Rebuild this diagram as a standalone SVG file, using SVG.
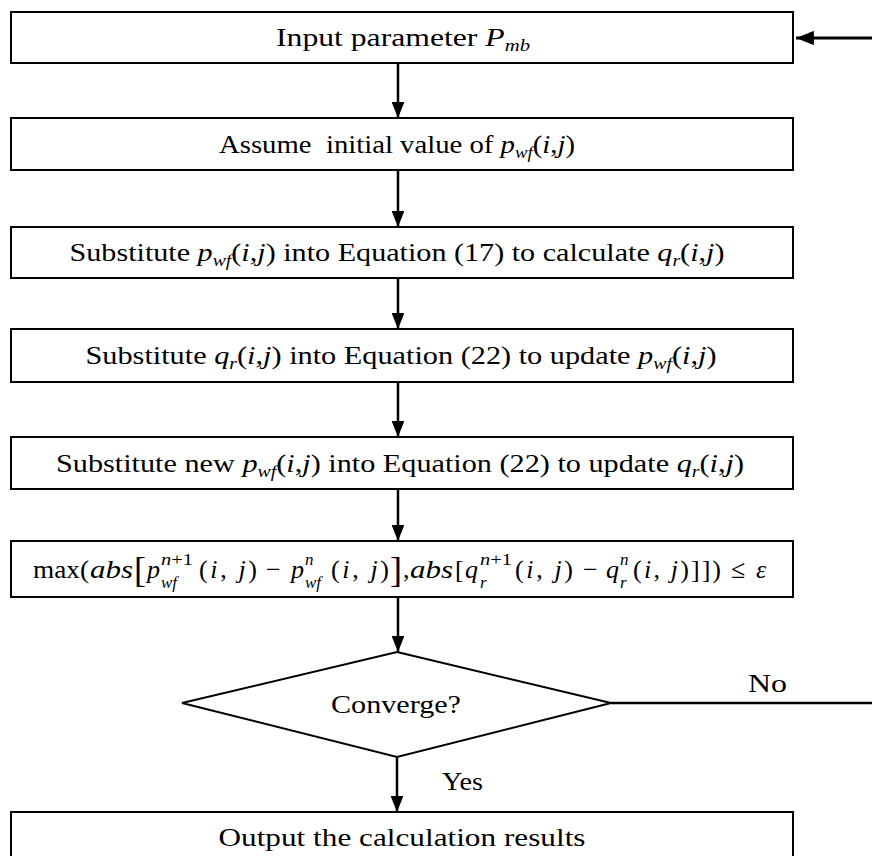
<svg xmlns="http://www.w3.org/2000/svg" width="872" height="856" viewBox="0 0 872 856">
<style>
.box{fill:#fff;stroke:#000;stroke-width:2}
.t{font-family:"Liberation Serif","Times New Roman",serif;font-size:26px;fill:#000}
.m{font-family:"Liberation Serif","Times New Roman",serif;font-size:26px;fill:#000}
.i{font-style:italic}
.edge{stroke:#000;stroke-width:2.5;fill:none}
.arr{marker-end:url(#ah)}
</style>
<defs>
<marker id="ah" viewBox="0 0 15 12" refX="15" refY="6" markerWidth="6.4" markerHeight="5.1" markerUnits="strokeWidth" orient="auto">
<path d="M0,0 L15,6 L0,12 z" fill="#000"/>
</marker>
</defs>
<rect width="872" height="856" fill="#fff"/>

<g id="connectors">
<path class="edge arr" d="M398,64 V118"/>
<path class="edge arr" d="M398,171 V227"/>
<path class="edge arr" d="M398,279 V329"/>
<path class="edge arr" d="M398,383 V437"/>
<path class="edge arr" d="M398,490 V541"/>
<path class="edge arr" d="M398,598 V652"/>
<path class="edge arr" d="M397,758 V812"/>
<path class="edge" d="M611,703 H872"/>
<path class="edge arr" d="M872,38 H796" style="stroke-width:2.8"/>
<text class="t" x="748" y="692" textLength="39" lengthAdjust="spacingAndGlyphs">No</text>
<text class="t" x="442" y="790" textLength="41" lengthAdjust="spacingAndGlyphs">Yes</text>
</g>

<g id="n1">
<rect class="box" x="11" y="12" width="782" height="51"/>
<text class="t" x="403" y="46" text-anchor="middle" textLength="254" lengthAdjust="spacingAndGlyphs">Input parameter <tspan class="i">P</tspan><tspan class="i" font-size="17" dy="5">mb</tspan></text>
</g>

<g id="n2">
<rect class="box" x="11" y="118" width="782" height="52"/>
<text class="t" x="397" y="153" text-anchor="middle" textLength="356" lengthAdjust="spacingAndGlyphs" xml:space="preserve">Assume  initial value of <tspan class="i">p</tspan><tspan class="i" font-size="17" dy="5">wf</tspan><tspan dy="-5">(</tspan><tspan class="i">i</tspan>,<tspan class="i">j</tspan>)</text>
</g>

<g id="n3">
<rect class="box" x="11" y="227" width="782" height="51"/>
<text class="t" x="397" y="261" text-anchor="middle" textLength="655" lengthAdjust="spacingAndGlyphs">Substitute <tspan class="i">p</tspan><tspan class="i" font-size="17" dy="5">wf</tspan><tspan dy="-5">(</tspan><tspan class="i">i</tspan>,<tspan class="i">j</tspan>) into Equation (17) to calculate <tspan class="i">q</tspan><tspan class="i" font-size="17" dy="5">r</tspan><tspan dy="-5">(</tspan><tspan class="i">i</tspan>,<tspan class="i">j</tspan>)</text>
</g>

<g id="n4">
<rect class="box" x="11" y="329" width="782" height="53"/>
<text class="t" x="401" y="364" text-anchor="middle" textLength="631" lengthAdjust="spacingAndGlyphs">Substitute <tspan class="i">q</tspan><tspan class="i" font-size="17" dy="5">r</tspan><tspan dy="-5">(</tspan><tspan class="i">i</tspan>,<tspan class="i">j</tspan>) into Equation (22) to update <tspan class="i">p</tspan><tspan class="i" font-size="17" dy="5">wf</tspan><tspan dy="-5">(</tspan><tspan class="i">i</tspan>,<tspan class="i">j</tspan>)</text>
</g>

<g id="n5">
<rect class="box" x="11" y="437" width="782" height="52"/>
<text class="t" x="400" y="472" text-anchor="middle" textLength="688" lengthAdjust="spacingAndGlyphs">Substitute new <tspan class="i">p</tspan><tspan class="i" font-size="17" dy="5">wf</tspan><tspan dy="-5">(</tspan><tspan class="i">i</tspan>,<tspan class="i">j</tspan>) into Equation (22) to update <tspan class="i">q</tspan><tspan class="i" font-size="17" dy="5">r</tspan><tspan dy="-5">(</tspan><tspan class="i">i</tspan>,<tspan class="i">j</tspan>)</text>
</g>

<g id="n6">
<rect class="box" x="11" y="541" width="782" height="56"/>
<g class="m">
<text x="33" y="578" textLength="56" lengthAdjust="spacingAndGlyphs">max(</text>
<text x="90" y="578" class="i" textLength="43" lengthAdjust="spacingAndGlyphs">abs</text>
<text x="134" y="582" font-size="36">[</text>
<text x="147" y="578" class="i">p</text>
<text x="161" y="565" font-size="17" textLength="32" lengthAdjust="spacingAndGlyphs"><tspan class="i">n</tspan>+1</text>
<text x="161" y="588" font-size="17" class="i">wf</text>
<text x="199" y="578" textLength="58">(<tspan class="i">i</tspan>, <tspan class="i">j</tspan>)</text>
<text x="266" y="578">−</text>
<text x="291" y="578" class="i">p</text>
<text x="305" y="565" font-size="17" class="i">n</text>
<text x="305" y="588" font-size="17" class="i">wf</text>
<text x="331" y="578" textLength="58">(<tspan class="i">i</tspan>, <tspan class="i">j</tspan>)</text>
<text x="390" y="582" font-size="36">]</text>
<text x="403" y="578">,</text>
<text x="410" y="578" class="i" textLength="43" lengthAdjust="spacingAndGlyphs">abs</text>
<text x="455" y="578">[</text>
<text x="465" y="578" class="i">q</text>
<text x="480" y="565" font-size="17" textLength="32" lengthAdjust="spacingAndGlyphs"><tspan class="i">n</tspan>+1</text>
<text x="480" y="588" font-size="17" class="i">r</text>
<text x="515" y="578" textLength="58">(<tspan class="i">i</tspan>, <tspan class="i">j</tspan>)</text>
<text x="583" y="578">−</text>
<text x="606" y="578" class="i">q</text>
<text x="620" y="565" font-size="17" class="i">n</text>
<text x="620" y="588" font-size="17" class="i">r</text>
<text x="633" y="578" textLength="56">(<tspan class="i">i</tspan>, <tspan class="i">j</tspan>)</text>
<text x="691" y="578" textLength="30">]])</text>
<text x="731" y="578">≤</text>
<text x="756" y="578" class="i">ε</text>
</g>
</g>

<g id="n7">
<polygon class="box" points="397,652 611,703 397,757 182,703"/>
<text class="t" x="396" y="713" text-anchor="middle" textLength="130" lengthAdjust="spacingAndGlyphs">Converge?</text>
</g>

<g id="n8">
<rect class="box" x="11" y="812" width="782" height="52"/>
<text class="t" x="402" y="846" text-anchor="middle" textLength="367" lengthAdjust="spacingAndGlyphs">Output the calculation results</text>
</g>
</svg>
